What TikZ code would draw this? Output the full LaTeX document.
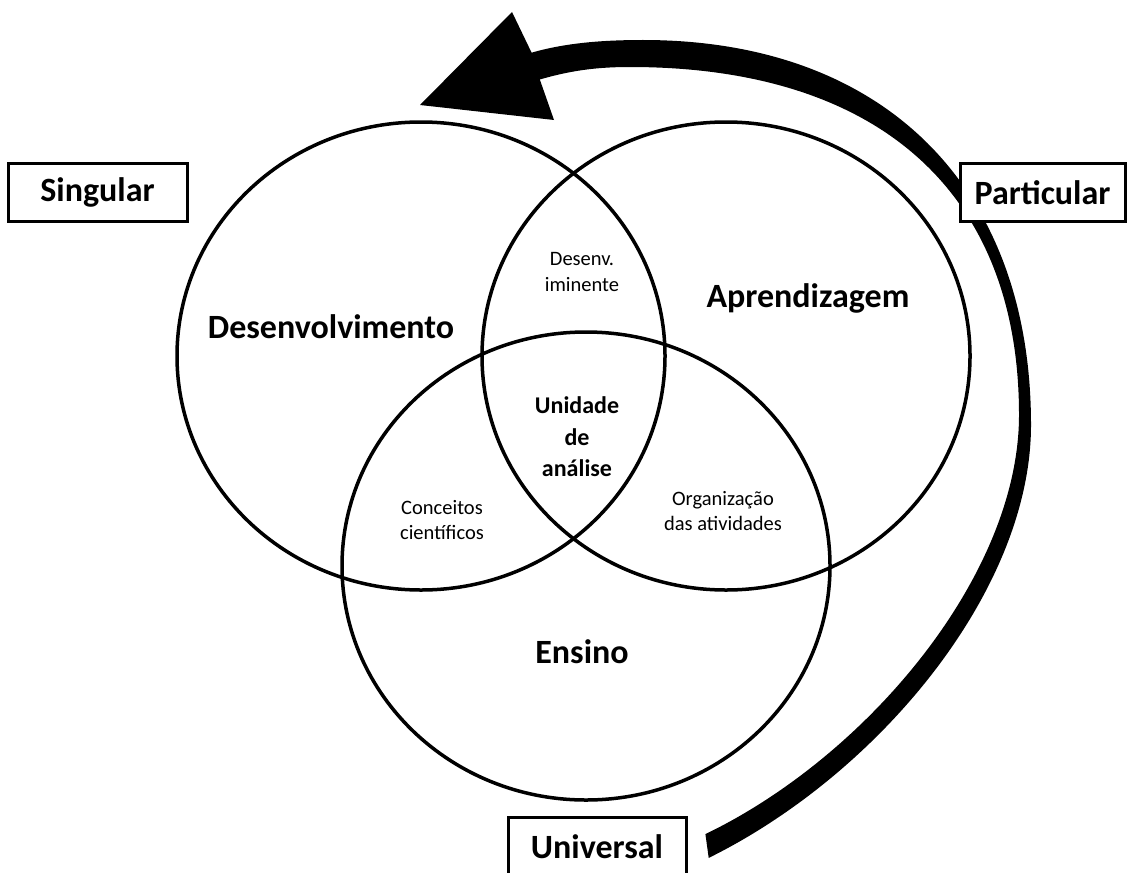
\documentclass[tikz,border=0pt]{standalone}
\usepackage{fontspec}
\setmainfont{Carlito}
\begin{document}
\begin{tikzpicture}[x=1pt,y=-1pt,
    big/.style={font=\fontsize{34}{40}\selectfont\bfseries},
    small/.style={font=\fontsize{20.5}{25.5}\selectfont, align=center},
    tag/.style={draw, line width=3pt, fill=white, minimum height=58pt, inner sep=0pt, big}]

    \useasboundingbox (0,0) rectangle (1131,872);

    \def\devcircle{(421,356) ellipse [x radius=244, y radius=234]}
    \def\aprcircle{(726,356) ellipse [x radius=244, y radius=234]}
    \def\enscircle{(586,566) ellipse [x radius=244, y radius=234]}

    %draw arrow:
    \fill (708.7,857.9) .. controls (879.1,773.7) and (1031,590) .. (1031,425)
        .. controls (1031,186.3) and (883.6,40) .. (643,40)
        .. controls (603,40) and (565.2,42.9) .. (531.6,52.7)
        -- (512,12) -- (420,105) -- (554,120) -- (539.8,79.5)
        .. controls (573.4,69.7) and (600,67) .. (630,67)
        .. controls (879,67) and (1019,192.3) .. (1019,415)
        .. controls (1019,575) and (867.4,756) .. (705.4,834.1)
        -- cycle;

    %draw circles:
    \draw[line width=3.5pt] \devcircle;
    \draw[line width=3.5pt] \aprcircle;
    \draw[line width=3.5pt] \enscircle;

    \node[big] (dev) at (331,327) {Desenvolvimento};
    \node[big] (apr) at (808,298) {Aprendizagem};
    \node[big] (ens) at (582,652) {Ensino};

    \node[small] (iminente) at (582,272) {Desenv.\\iminente};
    \node[font=\fontsize{24}{31.5}\selectfont\bfseries, align=center] (unidade) at (577,437) {Unidade\\de\\análise};
    \node[small] (conceitos) at (442,520) {Conceitos\\científicos};
    \node[small] (organizacao) at (723,511) {Organização\\das atividades};

    %draw tags:
    \node[tag, minimum width=179pt] (singular) at (97.5,192.5) {Singular};
    \node[tag, minimum width=165pt] (particular) at (1042.5,192.5) {Particular};
    \node[tag, minimum width=178pt] (universal) at (597,846.5) {Universal};

\end{tikzpicture}
\end{document}
